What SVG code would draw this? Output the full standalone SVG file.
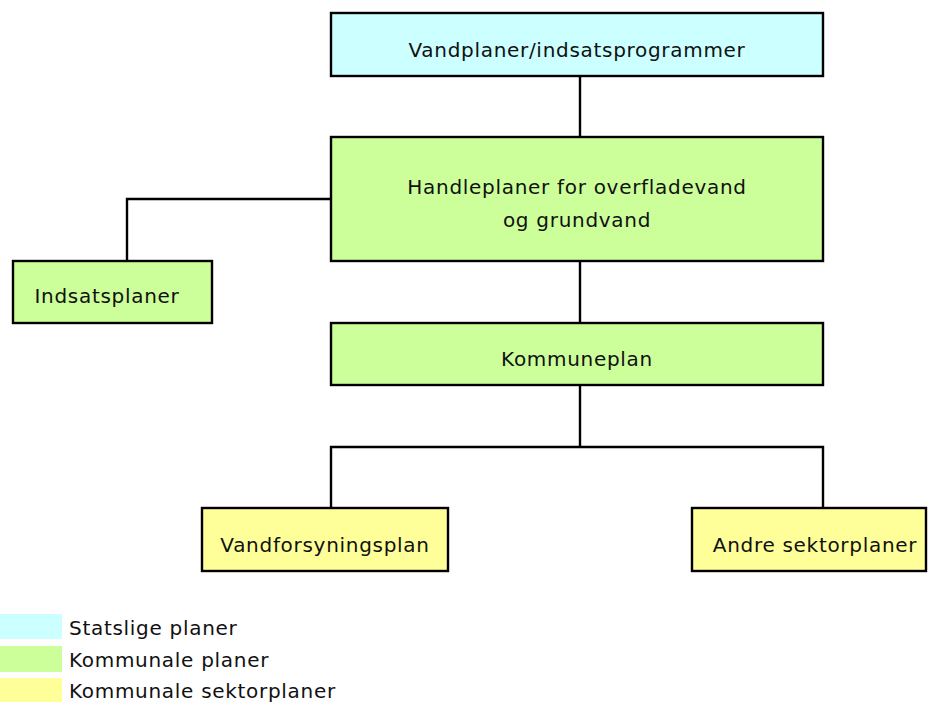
<svg xmlns="http://www.w3.org/2000/svg" width="928" height="702" viewBox="0 0 928 702">
<style>
  .box { stroke: #000; stroke-width: 2.4; }
  .stat { fill: #CCFFFF; }
  .komm { fill: #CCFF99; }
  .sekt { fill: #FFFF99; }
  .lbl { font-family: "DejaVu Sans", Verdana, sans-serif; font-size: 20px; letter-spacing: 0.7px; fill: #111; text-anchor: middle; }
  .leg { font-family: "DejaVu Sans", Verdana, sans-serif; font-size: 20px; letter-spacing: 0.7px; fill: #111; }
  .conn { fill: none; stroke: #000; stroke-width: 2.4; }
</style>
<rect width="928" height="702" fill="#fff"/>
<g id="connectors">
  <line class="conn" x1="580" y1="76" x2="580" y2="137"/>
  <polyline class="conn" points="331,199 127,199 127,261"/>
  <line class="conn" x1="580" y1="261" x2="580" y2="323"/>
  <line class="conn" x1="580" y1="385" x2="580" y2="447"/>
  <polyline class="conn" points="331,508 331,447 823,447 823,508"/>
</g>
<g id="vandplaner">
  <rect class="box stat" x="331" y="13" width="492" height="63"/>
  <text class="lbl" x="577" y="57">Vandplaner/indsatsprogrammer</text>
</g>
<g id="handleplaner">
  <rect class="box komm" x="331" y="137" width="492" height="124"/>
  <text class="lbl" x="577" y="194">Handleplaner for overfladevand</text>
  <text class="lbl" x="577" y="227">og grundvand</text>
</g>
<g id="indsatsplaner">
  <rect class="box komm" x="13" y="261" width="199" height="62"/>
  <text class="lbl" x="107" y="303">Indsatsplaner</text>
</g>
<g id="kommuneplan">
  <rect class="box komm" x="331" y="323" width="492" height="62"/>
  <text class="lbl" x="577" y="366">Kommuneplan</text>
</g>
<g id="vandforsyningsplan">
  <rect class="box sekt" x="202" y="508" width="246" height="63"/>
  <text class="lbl" x="325" y="552">Vandforsyningsplan</text>
</g>
<g id="andre">
  <rect class="box sekt" x="692" y="508" width="234" height="63"/>
  <text class="lbl" x="815" y="552">Andre sektorplaner</text>
</g>
<g id="legend">
  <rect class="stat" x="0" y="614" width="62" height="25"/>
  <rect class="komm" x="0" y="646" width="62" height="26"/>
  <rect class="sekt" x="0" y="678" width="62" height="26"/>
  <text class="leg" x="69" y="635">Statslige planer</text>
  <text class="leg" x="69" y="667">Kommunale planer</text>
  <text class="leg" x="69" y="698">Kommunale sektorplaner</text>
</g>
</svg>
